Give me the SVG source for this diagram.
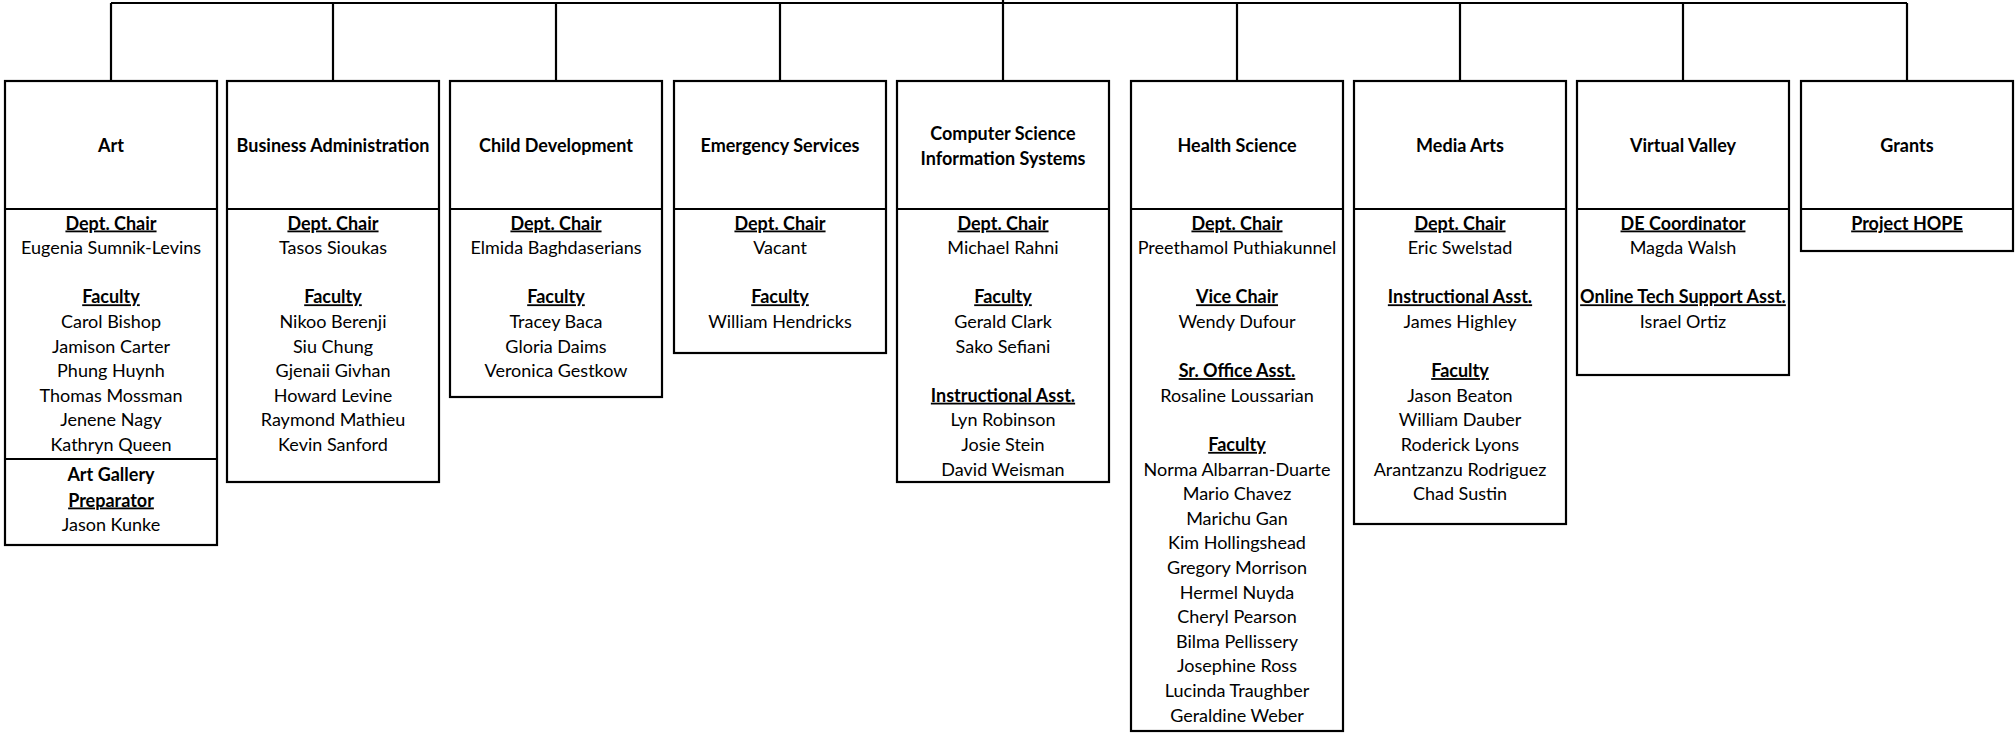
<svg xmlns="http://www.w3.org/2000/svg" width="2015" height="733" viewBox="0 0 2015 733">
<style>
.box{fill:#fff;stroke:#000;stroke-width:2.2}
.sep{stroke:#000;stroke-width:2.2}
.con{stroke:#000;stroke-width:2.2;fill:none}
text{font-family:Lato,"Open Sans",sans-serif;font-size:18px;fill:#000;text-anchor:middle;transform:translateY(1.5px)}
.h{font-weight:bold}
.l{font-weight:bold;text-decoration:underline}
</style>
<rect width="2015" height="733" fill="#fff"/>
<g id="connectors">
<line class="con" x1="111" y1="3" x2="1907" y2="3"/>
<line class="con" x1="1003" y1="0" x2="1003" y2="81"/>
<line class="con" x1="111" y1="3" x2="111" y2="81"/>
<line class="con" x1="333" y1="3" x2="333" y2="81"/>
<line class="con" x1="556" y1="3" x2="556" y2="81"/>
<line class="con" x1="780" y1="3" x2="780" y2="81"/>
<line class="con" x1="1237" y1="3" x2="1237" y2="81"/>
<line class="con" x1="1460" y1="3" x2="1460" y2="81"/>
<line class="con" x1="1683" y1="3" x2="1683" y2="81"/>
<line class="con" x1="1907" y1="3" x2="1907" y2="81"/>
</g>
<g id="art">
<rect class="box" x="5" y="81" width="212" height="464"/>
<line class="sep" x1="5" y1="209" x2="217" y2="209"/>
<line class="sep" x1="5" y1="459" x2="217" y2="459"/>
<text class="h" x="111" y="150">Art</text>
<text class="l" x="111" y="228">Dept. Chair</text>
<text x="111" y="252.6">Eugenia Sumnik-Levins</text>
<text class="l" x="111" y="301.8">Faculty</text>
<text x="111" y="326.4">Carol Bishop</text>
<text x="111" y="351">Jamison Carter</text>
<text x="111" y="375.6">Phung Huynh</text>
<text x="111" y="400.2">Thomas Mossman</text>
<text x="111" y="424.8">Jenene Nagy</text>
<text x="111" y="449.4">Kathryn Queen</text>
<text class="h" x="111" y="479">Art Gallery</text>
<text class="l" x="111" y="505">Preparator</text>
<text x="111" y="529">Jason Kunke</text>
</g>
<g id="business">
<rect class="box" x="227" y="81" width="212" height="401"/>
<line class="sep" x1="227" y1="209" x2="439" y2="209"/>
<text class="h" x="333" y="150">Business Administration</text>
<text class="l" x="333" y="228">Dept. Chair</text>
<text x="333" y="252.6">Tasos Sioukas</text>
<text class="l" x="333" y="301.8">Faculty</text>
<text x="333" y="326.4">Nikoo Berenji</text>
<text x="333" y="351">Siu Chung</text>
<text x="333" y="375.6">Gjenaii Givhan</text>
<text x="333" y="400.2">Howard Levine</text>
<text x="333" y="424.8">Raymond Mathieu</text>
<text x="333" y="449.4">Kevin Sanford</text>
</g>
<g id="child">
<rect class="box" x="450" y="81" width="212" height="316"/>
<line class="sep" x1="450" y1="209" x2="662" y2="209"/>
<text class="h" x="556" y="150">Child Development</text>
<text class="l" x="556" y="228">Dept. Chair</text>
<text x="556" y="252.6">Elmida Baghdaserians</text>
<text class="l" x="556" y="301.8">Faculty</text>
<text x="556" y="326.4">Tracey Baca</text>
<text x="556" y="351">Gloria Daims</text>
<text x="556" y="375.6">Veronica Gestkow</text>
</g>
<g id="emergency">
<rect class="box" x="674" y="81" width="212" height="272"/>
<line class="sep" x1="674" y1="209" x2="886" y2="209"/>
<text class="h" x="780" y="150">Emergency Services</text>
<text class="l" x="780" y="228">Dept. Chair</text>
<text x="780" y="252.6">Vacant</text>
<text class="l" x="780" y="301.8">Faculty</text>
<text x="780" y="326.4">William Hendricks</text>
</g>
<g id="cs">
<rect class="box" x="897" y="81" width="212" height="401"/>
<line class="sep" x1="897" y1="209" x2="1109" y2="209"/>
<text class="h" x="1003" y="138">Computer Science</text>
<text class="h" x="1003" y="163">Information Systems</text>
<text class="l" x="1003" y="228">Dept. Chair</text>
<text x="1003" y="252.6">Michael Rahni</text>
<text class="l" x="1003" y="301.8">Faculty</text>
<text x="1003" y="326.4">Gerald Clark</text>
<text x="1003" y="351">Sako Sefiani</text>
<text class="l" x="1003" y="400.2">Instructional Asst.</text>
<text x="1003" y="424.8">Lyn Robinson</text>
<text x="1003" y="449.4">Josie Stein</text>
<text x="1003" y="474">David Weisman</text>
</g>
<g id="health">
<rect class="box" x="1131" y="81" width="212" height="650"/>
<line class="sep" x1="1131" y1="209" x2="1343" y2="209"/>
<text class="h" x="1237" y="150">Health Science</text>
<text class="l" x="1237" y="228">Dept. Chair</text>
<text x="1237" y="252.6">Preethamol Puthiakunnel</text>
<text class="l" x="1237" y="301.8">Vice Chair</text>
<text x="1237" y="326.4">Wendy Dufour</text>
<text class="l" x="1237" y="375.6">Sr. Office Asst.</text>
<text x="1237" y="400.2">Rosaline Loussarian</text>
<text class="l" x="1237" y="449.4">Faculty</text>
<text x="1237" y="474">Norma Albarran-Duarte</text>
<text x="1237" y="498.6">Mario Chavez</text>
<text x="1237" y="523.2">Marichu Gan</text>
<text x="1237" y="547.8">Kim Hollingshead</text>
<text x="1237" y="572.4">Gregory Morrison</text>
<text x="1237" y="597">Hermel Nuyda</text>
<text x="1237" y="621.6">Cheryl Pearson</text>
<text x="1237" y="646.2">Bilma Pellissery</text>
<text x="1237" y="670.8">Josephine Ross</text>
<text x="1237" y="695.4">Lucinda Traughber</text>
<text x="1237" y="720">Geraldine Weber</text>
</g>
<g id="media">
<rect class="box" x="1354" y="81" width="212" height="443"/>
<line class="sep" x1="1354" y1="209" x2="1566" y2="209"/>
<text class="h" x="1460" y="150">Media Arts</text>
<text class="l" x="1460" y="228">Dept. Chair</text>
<text x="1460" y="252.6">Eric Swelstad</text>
<text class="l" x="1460" y="301.8">Instructional Asst.</text>
<text x="1460" y="326.4">James Highley</text>
<text class="l" x="1460" y="375.6">Faculty</text>
<text x="1460" y="400.2">Jason Beaton</text>
<text x="1460" y="424.8">William Dauber</text>
<text x="1460" y="449.4">Roderick Lyons</text>
<text x="1460" y="474">Arantzanzu Rodriguez</text>
<text x="1460" y="498.6">Chad Sustin</text>
</g>
<g id="virtual-valley">
<rect class="box" x="1577" y="81" width="212" height="294"/>
<line class="sep" x1="1577" y1="209" x2="1789" y2="209"/>
<text class="h" x="1683" y="150">Virtual Valley</text>
<text class="l" x="1683" y="228">DE Coordinator</text>
<text x="1683" y="252.6">Magda Walsh</text>
<text class="l" x="1683" y="301.8">Online Tech Support Asst.</text>
<text x="1683" y="326.4">Israel Ortiz</text>
</g>
<g id="grants">
<rect class="box" x="1801" y="81" width="212" height="170"/>
<line class="sep" x1="1801" y1="209" x2="2013" y2="209"/>
<text class="h" x="1907" y="150">Grants</text>
<text class="l" x="1907" y="228">Project HOPE</text>
</g>
</svg>
